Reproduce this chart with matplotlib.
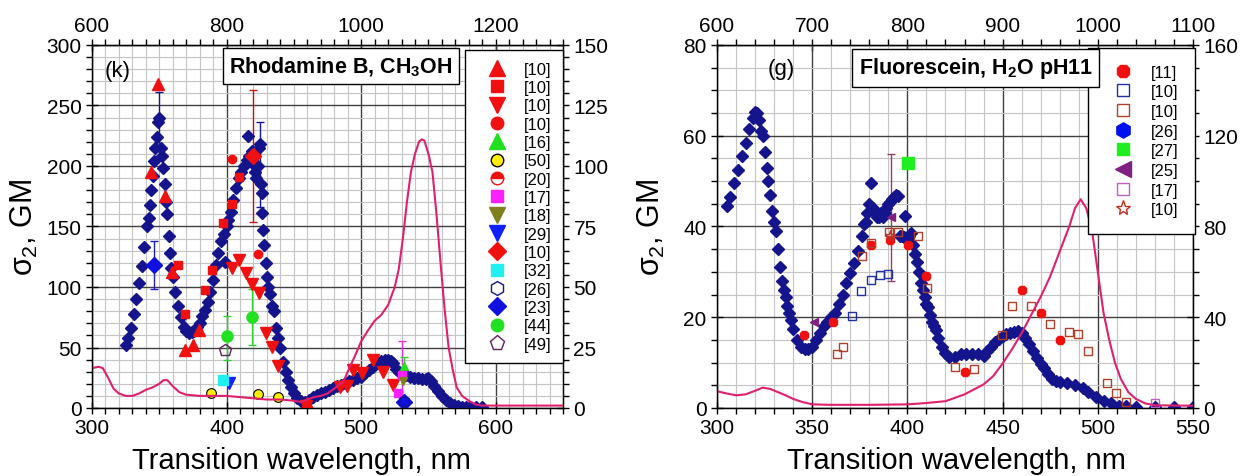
import matplotlib
matplotlib.use("Agg")
import matplotlib.pyplot as plt
from matplotlib.lines import Line2D
from matplotlib.ticker import MultipleLocator, FixedLocator

plt.rcParams['font.family'] = ['Liberation Sans', 'DejaVu Sans']
plt.rcParams['mathtext.fontset'] = 'custom'
plt.rcParams['mathtext.rm'] = 'Liberation Sans'
plt.rcParams['mathtext.it'] = 'Liberation Sans'
plt.rcParams['mathtext.bf'] = 'Liberation Sans:bold'

# ---------------- Panel (k): Rhodamine B in CH3OH ----------------
k_dense_x = [325, 327, 329, 331, 333, 335, 337, 339, 341, 342, 343, 344, 345, 346, 347, 348, 349, 350,
             351, 352, 353, 354, 355, 356, 357, 358, 359, 360, 362, 364, 366, 368, 370, 372, 374, 376,
             378, 380, 382, 384, 386, 388, 390, 392, 394, 396, 398, 399, 400, 401, 403, 405, 407, 409,
             411, 413, 415, 416, 417, 419, 420, 421, 422, 423, 424, 425, 425.5, 426, 426.5, 427, 428,
             429, 430, 431, 432, 434, 435, 437, 438, 440, 442, 444, 446, 448, 450, 452, 455, 458, 461,
             464, 467, 470, 473, 476, 479, 482, 485, 488, 491, 494, 497, 500, 503, 506, 509, 512, 515,
             518, 520, 522, 524, 526, 528, 530, 533, 536, 539, 542, 545, 548, 550, 552, 554, 557, 560,
             563, 566, 569, 572, 575, 578, 581, 585, 590]
k_dense_y = [52, 58, 66, 78, 90, 103, 117, 133, 150, 157, 168, 180, 192, 204, 215, 224, 236, 240,
             215, 208, 198, 185, 170, 160, 142, 128, 116, 108, 96, 84, 75, 67, 64, 62, 63, 64,
             67, 70, 76, 81, 88, 96, 106, 118, 128, 138, 144, 121, 150, 155, 162, 172, 182, 190,
             195, 200, 205, 225, 208, 212, 202, 195, 190, 200, 215, 218, 185, 178, 161, 147, 135,
             120, 108, 100, 94, 84, 80, 66, 58, 50, 38, 30, 23, 17, 12, 8, 6, 5, 7,
             9, 10.5, 12, 13.5, 15, 16.5, 18, 19, 20.5, 22, 23.5, 25, 26, 29, 31.5, 34, 37, 39,
             40, 40, 39, 37, 32, 30, 28, 27, 26, 25, 25, 24, 24, 25, 22, 18, 14, 10,
             7, 4, 2.5, 1.5, 1, 1, 0.5, 0.5, 0.5]

# one-photon absorption (right axis units)
k_abs_x = [300, 305, 308, 312, 316, 320, 325, 330, 335, 340, 345, 350, 353, 356, 360, 365, 370, 380,
           390, 400, 410, 420, 430, 440, 450, 455, 460, 465, 470, 475, 480, 487, 490, 495, 500, 505,
           510, 515, 520, 525, 528, 531, 534, 537, 540, 543, 545, 547, 550, 553, 556, 559, 562, 565,
           568, 571, 575, 580, 585, 590, 600, 650]
k_abs_y = [16.5, 17, 16.5, 12.5, 8, 6, 5, 5, 6, 7.5, 8.5, 10, 11.5, 11.5, 9, 6.5, 5.5, 5,
           5, 5, 4.5, 4, 3.5, 3.5, 3, 2.5, 3.5, 4.5, 5, 6, 8, 11, 15, 21, 27.5, 32,
           36, 38.5, 42.5, 50, 57.5, 70, 85, 97.5, 105, 110, 111, 110.5, 105, 97.5, 80, 60, 41, 25,
           16, 8.5, 5, 3, 1.5, 1, 1, 1]

k_tri_up_x = [349.3, 343.6, 354.3, 359.2, 369, 374.9, 379.8, 459.6]
k_tri_up_y = [268, 195, 175, 112.6, 48, 52, 64.5, 4]
k_sq_x = [364.2, 369.1, 384, 389, 397.6, 403.8, 409.5]
k_sq_y = [118, 78, 97.5, 114, 152.6, 169, 190.6]
k_tri_dn_x = [403.8, 409.5, 414.3, 419.2, 424.4, 429.1, 434, 438.5, 459.1, 484.4, 489.4, 494.3,
              500.5, 508.7, 516.1, 524]
k_tri_dn_y = [115.4, 122, 111.8, 102.5, 94.8, 62.3, 50.7, 35, 1.7, 17.6, 18.2, 31.4,
              28.7, 39.7, 30, 19]
k_circ_x = [403.8, 423.7]
k_circ_y = [205.5, 127]
k_diam_red_x = [420]
k_diam_red_y = [208]
k_diam_red_lo = [54]
k_diam_red_hi = [55]
k_green_tri_x = [531.5]
k_green_tri_y = [35]
k_yellow_x = [388.5, 423.7, 438.5]
k_yellow_y = [12.7, 11.6, 9.4]
k_mag_x = [527.7, 530]
k_mag_y = [12, 27]
k_olive_x = [531]
k_olive_y = [22]
k_blue_dn_x = [402]
k_blue_dn_y = [20.4]
k_cyan_x = [397.2]
k_cyan_y = [23]
k_hex_x = [532]
k_hex_y = [6]
k_blue_d_x = [346, 532]
k_blue_d_y = [118, 5]
k_green_c_x = [400.1, 419.2]
k_green_c_y = [59.5, 75]
k_green_c_lo = [19.5, 23]
k_green_c_hi = [16.5, 23]
k_pent_x = [398.9]
k_pent_y = [48]
k_dense_err_x = [350, 425]
k_dense_err_y = [238, 201]
k_dense_err = [23, 35]

k_labels = ['[10]', '[10]', '[10]', '[10]', '[16]', '[50]', '[20]', '[17]', '[18]', '[29]',
            '[10]', '[32]', '[26]', '[23]', '[44]', '[49]']
k_top_ticks = [600, 800, 1000, 1200]

# ---------------- Panel (g): Fluorescein, H2O pH11 ----------------
g_dense_x = [305, 307, 309, 311, 313, 315, 317, 319, 320, 321, 322, 323, 324, 325, 326, 327, 328, 329,
             330, 331, 332, 333, 334, 335, 336, 337, 338, 339, 340, 342, 344, 346, 348, 350, 352, 354,
             356, 358, 360, 362, 364, 366, 368, 370, 372, 374, 376, 377, 378, 379, 380, 381, 382, 383,
             384, 385, 386, 387, 388, 389, 390, 391, 392, 393, 394, 395, 396, 397, 398, 399, 400, 401,
             402, 403, 404, 405, 406, 407, 408, 409, 410, 411, 412, 413, 414, 415, 416, 418, 420, 422,
             425, 428, 431, 434, 437, 440, 442, 444, 446, 448, 450, 452, 454, 456, 458, 460, 462, 464,
             466, 468, 470, 472, 474, 476, 478, 480, 484, 488, 492, 495, 499, 503, 507, 511, 515, 520,
             530, 540, 550]
g_dense_y = [44.5, 46.5, 49.5, 52.5, 55.5, 58.5, 61.5, 64, 65.3, 65, 63.5, 61, 60, 56.5, 53, 50, 47, 43.5,
             41, 39, 35, 31, 28, 26, 24.5, 22.5, 21, 19.4, 17.5, 15, 13.5, 13, 13, 13.5, 15, 16.5,
             18, 19, 20, 21, 23, 25, 27.5, 29.7, 32, 34.5, 38, 40.5, 41, 43, 45, 49.5, 44, 43,
             42, 42, 43, 42, 43, 44, 45, 45.5, 46, 46.5, 47, 46.7, 38, 38, 37.7, 42.3, 37, 38,
             38.5, 36, 34, 32.2, 30, 27.5, 26, 24.5, 23, 22.3, 20.5, 19, 18, 17.2, 15.5, 13.5, 12.2, 11.3,
             11.3, 11.8, 12, 12, 11.8, 11.5, 12.5, 13.5, 14.5, 15.2, 15.8, 16.2, 16.5, 16.8, 17, 16.5, 15.5, 14,
             12.5, 11, 9.8, 8.8, 7.5, 6.5, 6, 5.8, 5.5, 5, 4.3, 3.5, 2.4, 1.5, 1, 0.5, 0.4, 0.3,
             0.3, 0.3, 0.3]

g_abs_x = [300, 305, 310, 315, 320, 324, 328, 332, 336, 340, 345, 350, 360, 380, 400, 410, 420, 430,
           440, 445, 450, 455, 460, 465, 470, 475, 480, 485, 488, 491, 494, 497, 500, 503, 506, 509,
           512, 516, 520, 525, 530, 550]
g_abs_y = [7.4, 6.4, 5.6, 6, 7.6, 9, 8.4, 7, 5.6, 4, 2.6, 1.6, 1.4, 1.4, 1.6, 2.2, 3, 6,
           10.4, 14, 19.6, 26, 33, 41, 49, 58, 69, 80, 88, 92, 88, 78, 60, 42, 30, 20,
           13, 7, 4, 2, 1.2, 1]

g_red_x = [345.5, 361, 380.7, 391, 400.5, 410, 430, 460, 470, 480]
g_red_y = [16, 19, 36, 37, 36, 29, 8, 26, 21, 15]
g_navy_sq_x = [370.7, 375.6, 380.7, 385.6, 390]
g_navy_sq_y = [20.3, 25.8, 28.2, 29.3, 29.5]
g_brown_sq_x = [363, 366, 376, 380.7, 390.3, 395.2, 405.7, 410.1, 425, 435.2, 449.8, 454.8, 464.8,
                474.8, 484.7, 489.6, 494.9, 504.9, 509.7, 515]
g_brown_sq_y = [11.8, 13.5, 33.5, 36.4, 38.7, 38.8, 37.9, 26.4, 9.1, 8.5, 16.1, 22.5, 22.5,
                18.5, 16.7, 16.3, 12.5, 5.5, 3.3, 1.3]
g_green_x = [400.5]
g_green_y = [54]
g_purple_x = [351, 391.6]
g_purple_y = [19, 42]
g_purple_err = [0, 14]
g_violet_x = [530]
g_violet_y = [1]
g_star_x = [391]
g_star_y = [38]

g_labels = ['[11]', '[10]', '[10]', '[26]', '[27]', '[25]', '[17]', '[10]']
g_top_ticks = [600, 700, 800, 900, 1000, 1100]

# ---------------- styling ----------------
NAVY = '#14148c'
PINK = '#e0206e'
RED = '#f01010'
FS_TICK = 15
FS_XLAB = 21
FS_YLAB = 22

fig = plt.figure(figsize=(12.5, 4.77), dpi=100)
axk = fig.add_axes([92 / 1250, 68 / 477, 471 / 1250, 363 / 477])
axg = fig.add_axes([717 / 1250, 68 / 477, 476 / 1250, 363 / 477])


def style_axes(ax, xlim, xmaj, ylim, ymaj, ymin):
    ax.set_xlim(*xlim)
    ax.set_ylim(*ylim)
    ax.xaxis.set_major_locator(MultipleLocator(xmaj))
    ax.xaxis.set_minor_locator(MultipleLocator(10))
    ax.yaxis.set_major_locator(MultipleLocator(ymaj))
    ax.yaxis.set_minor_locator(MultipleLocator(ymin))
    ax.grid(which='minor', color='#c4c4c4', lw=0.8, zorder=0)
    ax.grid(which='major', color='#404040', lw=1.0, zorder=0)
    ax.set_axisbelow(True)
    ax.tick_params(which='major', direction='inout', length=9, width=1, labelsize=FS_TICK, pad=3)
    ax.tick_params(which='minor', direction='out', length=4, width=1)
    for s in ax.spines.values():
        s.set_linewidth(1.0)
        s.set_color('black')


def add_top(ax, ticks):
    sec = ax.secondary_xaxis('top', functions=(lambda x: 2 * x, lambda x: x / 2))
    sec.xaxis.set_major_locator(FixedLocator(ticks))
    sec.xaxis.set_minor_locator(MultipleLocator(20))
    sec.tick_params(which='major', direction='inout', length=9, width=1, labelsize=FS_TICK, pad=3)
    sec.tick_params(which='minor', direction='out', length=4, width=1)
    return sec


def add_right(ax, ylim, maj, mnr):
    tw = ax.twinx()
    tw.set_ylim(*ylim)
    tw.yaxis.set_major_locator(MultipleLocator(maj))
    tw.yaxis.set_minor_locator(MultipleLocator(mnr))
    tw.tick_params(which='major', direction='inout', length=9, width=1, labelsize=FS_TICK, pad=3)
    tw.tick_params(which='minor', direction='out', length=4, width=1)
    return tw


# ---- panel k ----
style_axes(axk, (300, 650), 100, (0, 300), 50, 10)
add_top(axk, k_top_ticks)
twk = add_right(axk, (0, 150), 25, 5)

twk.plot(k_abs_x, k_abs_y, color=PINK, lw=1.5, zorder=2)
axk.errorbar(k_dense_err_x, k_dense_err_y, yerr=k_dense_err, fmt='none', ecolor=NAVY, capsize=3, lw=1, zorder=3)
axk.plot(k_dense_x, k_dense_y, 'D', color=NAVY, ms=6, mec=NAVY, ls='none', zorder=4)
axk.errorbar(k_diam_red_x, k_diam_red_y, yerr=[k_diam_red_lo, k_diam_red_hi], fmt='none', ecolor='#d01010',
             capsize=3, lw=1, zorder=3)
axk.errorbar(k_green_c_x, k_green_c_y, yerr=[k_green_c_lo, k_green_c_hi], fmt='none', ecolor='#30d030',
             capsize=3, lw=1, zorder=3)
axk.errorbar([346], [118], yerr=[20], fmt='none', ecolor='#2020c0', capsize=3, lw=1, zorder=3)
axk.errorbar([530], [27], yerr=[28], fmt='none', ecolor='#e030e0', capsize=3, lw=1, zorder=3)
axk.errorbar([531.5], [35], yerr=[7], fmt='none', ecolor='#30d030', capsize=3, lw=1, zorder=3)

k_styles = [
    (k_tri_up_x, k_tri_up_y, dict(marker='^', color=RED, mec=RED, ms=8)),
    (k_sq_x, k_sq_y, dict(marker='s', color=RED, mec=RED, ms=6)),
    (k_tri_dn_x, k_tri_dn_y, dict(marker='v', color=RED, mec=RED, ms=8)),
    (k_circ_x, k_circ_y, dict(marker='o', color=RED, mec=RED, ms=6)),
    (k_green_tri_x, k_green_tri_y, dict(marker='^', color='#20e020', mec='#20e020', ms=6)),
    (k_yellow_x, k_yellow_y, dict(marker='o', color='#ffee00', mec='black', mew=0.8, ms=7)),
    (k_mag_x, k_mag_y, dict(marker='s', color='#ff20ff', mec='#ff20ff', ms=6)),
    (k_olive_x, k_olive_y, dict(marker='v', color='#808020', mec='#808020', ms=6)),
    (k_blue_dn_x, k_blue_dn_y, dict(marker='v', color='#1020ff', mec='#1020ff', ms=8)),
    (k_cyan_x, k_cyan_y, dict(marker='s', color='#20f0f0', mec='#20f0f0', ms=7)),
    (k_blue_d_x, k_blue_d_y, dict(marker='D', color='#1010e0', mec='#1010e0', ms=8)),
    (k_hex_x, k_hex_y, dict(marker='h', mfc='none', mec=NAVY, ms=8)),
    (k_diam_red_x, k_diam_red_y, dict(marker='D', color=RED, mec=RED, ms=8)),
    (k_green_c_x, k_green_c_y, dict(marker='o', color='#20e020', mec='#20e020', ms=8)),
    (k_pent_x, k_pent_y, dict(marker='p', mfc='none', mec='#602060', ms=9)),
]
for xs, ys, st in k_styles:
    axk.plot(xs, ys, ls='none', zorder=5, **st)

k_handles = [
    Line2D([], [], ls='none', marker='^', color=RED, ms=11),
    Line2D([], [], ls='none', marker='s', color=RED, ms=9),
    Line2D([], [], ls='none', marker='v', color=RED, ms=11),
    Line2D([], [], ls='none', marker='o', color=RED, ms=9),
    Line2D([], [], ls='none', marker='^', color='#20e020', ms=11),
    Line2D([], [], ls='none', marker='o', color='#ffee00', mec='black', ms=9),
    Line2D([], [], ls='none', marker='o', color=RED, mec=RED, fillstyle='top',
           markerfacecoloralt='white', ms=9),
    Line2D([], [], ls='none', marker='s', color='#ff20ff', ms=9),
    Line2D([], [], ls='none', marker='v', color='#808020', ms=11),
    Line2D([], [], ls='none', marker='v', color='#1020ff', ms=11),
    Line2D([], [], ls='none', marker='D', color=RED, ms=9),
    Line2D([], [], ls='none', marker='s', color='#20f0f0', ms=9),
    Line2D([], [], ls='none', marker='h', mfc='white', mec=NAVY, ms=10),
    Line2D([], [], ls='none', marker='D', color='#1010e0', ms=9),
    Line2D([], [], ls='none', marker='o', color='#20e020', ms=9),
    Line2D([], [], ls='none', marker='p', mfc='white', mec='#602060', ms=11),
]
legk = twk.legend(k_handles, k_labels, loc='upper right', bbox_to_anchor=(1.0, 0.986), fontsize=12,
                  frameon=True, fancybox=False, framealpha=1, edgecolor='black', labelspacing=0.2,
                  handlelength=2.4, handletextpad=0.4, borderpad=0.7, borderaxespad=0)
legk.get_frame().set_linewidth(1.0)

twk.text(0.529, 0.942, r'Rhodamine B, CH$_\mathbf{3}$OH', transform=axk.transAxes, ha='center', va='center',
         fontsize=15.5, fontweight='bold', zorder=10,
         bbox=dict(boxstyle='square,pad=0.3', fc='white', ec='black', lw=1.0))
twk.text(0.055, 0.93, '(k)', transform=axk.transAxes, ha='center', va='center', fontsize=16)

axk.set_ylabel(r'$\sigma_2$, GM', fontsize=FS_YLAB)
axk.yaxis.set_label_coords(-0.11, 0.5)
axk.set_xlabel('Transition wavelength, nm', fontsize=FS_XLAB)
axk.xaxis.set_label_coords(0.444, -0.105)

# ---- panel g ----
style_axes(axg, (300, 550), 50, (0, 80), 20, 5)
add_top(axg, g_top_ticks)
twg = add_right(axg, (0, 160), 40, 10)

twg.plot(g_abs_x, g_abs_y, color=PINK, lw=1.5, zorder=2)
axg.plot(g_dense_x, g_dense_y, 'D', color=NAVY, ms=6, mec=NAVY, ls='none', zorder=4)
axg.errorbar(g_purple_x, g_purple_y, yerr=g_purple_err, fmt='none', ecolor='#904070', capsize=3, lw=1, zorder=3)

g_styles = [
    (g_red_x, g_red_y, dict(marker='8', color=RED, mec=RED, ms=6)),
    (g_navy_sq_x, g_navy_sq_y, dict(marker='s', mfc='none', mec='#2030a0', ms=6)),
    (g_brown_sq_x, g_brown_sq_y, dict(marker='s', mfc='none', mec='#b04028', ms=6)),
    (g_green_x, g_green_y, dict(marker='s', color='#20ee20', mec='#20ee20', ms=8)),
    (g_purple_x, g_purple_y, dict(marker='<', color='#802080', mec='#802080', ms=6)),
    (g_violet_x, g_violet_y, dict(marker='s', mfc='none', mec='#c060c0', ms=6)),
    (g_star_x, g_star_y, dict(marker='*', mfc='none', mec='#c03020', ms=8)),
]
for xs, ys, st in g_styles:
    axg.plot(xs, ys, ls='none', zorder=5, **st)

g_handles = [
    Line2D([], [], ls='none', marker='8', color=RED, ms=10),
    Line2D([], [], ls='none', marker='s', mfc='white', mec='#2030a0', ms=8),
    Line2D([], [], ls='none', marker='s', mfc='white', mec='#b04028', ms=8),
    Line2D([], [], ls='none', marker='h', color='#0010f0', ms=11),
    Line2D([], [], ls='none', marker='s', color='#20ee20', ms=9),
    Line2D([], [], ls='none', marker='<', color='#802080', ms=11),
    Line2D([], [], ls='none', marker='s', mfc='white', mec='#c060c0', ms=8),
    Line2D([], [], ls='none', marker='*', mfc='white', mec='#c03020', ms=11),
]
legg = twg.legend(g_handles, g_labels, loc='upper right', bbox_to_anchor=(1.005, 0.992), fontsize=12,
                  frameon=True, fancybox=False, framealpha=1, edgecolor='black', labelspacing=0.28,
                  handlelength=2.2, handletextpad=0.6, borderpad=1.0, borderaxespad=0)
legg.get_frame().set_linewidth(1.0)

twg.text(0.544, 0.937, r'Fluorescein, H$_\mathbf{2}$O pH11', transform=axg.transAxes, ha='center',
         va='center', fontsize=15.5, fontweight='bold', zorder=10,
         bbox=dict(boxstyle='square,pad=0.3', fc='white', ec='black', lw=1.0))
twg.text(0.134, 0.934, '(g)', transform=axg.transAxes, ha='center', va='center', fontsize=16)

axg.set_ylabel(r'$\sigma_2$, GM', fontsize=FS_YLAB)
axg.yaxis.set_label_coords(-0.105, 0.5)
axg.set_xlabel('Transition wavelength, nm', fontsize=FS_XLAB)
axg.xaxis.set_label_coords(0.504, -0.105)

fig.savefig('out.png', dpi=100)
